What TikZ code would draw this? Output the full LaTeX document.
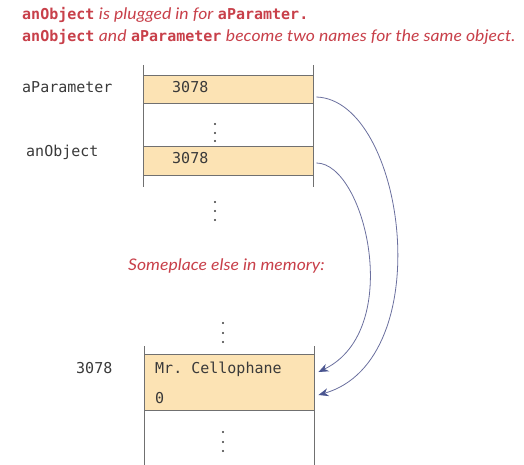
\documentclass[tikz,border=0pt]{standalone}
\usepackage{fontspec}
\setmonofont{DejaVu Sans Mono}
\newfontfamily\handfont{Lato}[FakeStretch=1.1]
\usetikzlibrary{arrows.meta,calc}
\definecolor{notered}{HTML}{C8404A}
\definecolor{cellfill}{HTML}{FCE3B4}
\definecolor{linegray}{HTML}{707070}
\definecolor{arrowblue}{HTML}{6A6F9E}
\definecolor{headblue}{HTML}{4A5590}
\definecolor{textdark}{HTML}{3A3A3A}
\tikzset{
  cell/.style={draw=linegray, line width=0.9pt, fill=cellfill, minimum width=170pt, inner sep=0pt},
  rail/.style={draw=linegray, line width=0.9pt},
  memtext/.style={anchor=base west, inner sep=0pt, text=textdark, font=\fontsize{15}{17}\ttfamily},
  note/.style={anchor=base west, inner sep=0pt, text=notered, font=\fontsize{15}{17}\selectfont},
  dot/.style={circle, fill=textdark, inner sep=0pt, minimum size=2.4pt},
  ptr/.style={draw=arrowblue, line width=0.8pt, -{Stealth[length=10pt,width=8pt,color=headblue]}},
}
\newcommand{\cd}[1]{{\ttfamily\bfseries #1}}
\newcommand{\hw}[1]{{\handfont\fontsize{16}{18}\selectfont\itshape #1}}
\begin{document}
\begin{tikzpicture}[x=1pt,y=-1pt]
\useasboundingbox (0,0) rectangle (524,465);
% header notes
\node[note] (h1) at (22,20) {\cd{anObject} \hw{is plugged in for} \cd{aParamter.}};
\node[note] (h2) at (22,42) {\cd{anObject} \hw{and} \cd{aParameter} \hw{become two names for the same object.}};
% top memory
\draw[rail] (143,65) -- (143,187);
\draw[rail] (313,65) -- (313,187);
\node[cell, minimum height=28pt] (p) at (228,89) {};
\node[cell, minimum height=29pt] (o) at (228,160.5) {};
\node[memtext] (lp) at (22,93) {aParameter};
\node[memtext] (lo) at (26,157) {anObject};
\node[memtext] (vp) at (172,93) {3078};
\node[memtext] (vo) at (172,164) {3078};
\node[dot] (d1) at (215,124) {};
\node[dot] (d2) at (215,133) {};
\node[dot] (d3) at (215,141) {};
\node[dot] (d4) at (215,202) {};
\node[dot] (d5) at (215,211) {};
\node[dot] (d6) at (215,220) {};
% note
\node[note] (sp) at (128,270) {\hw{Someplace else in memory:}};
% bottom memory
\draw[rail] (144,346) -- (144,465);
\draw[rail] (314,346) -- (314,465);
\node[cell, minimum height=56pt] (m) at (229,382) {};
\node[memtext] (la) at (76,373) {3078};
\node[memtext] (mn) at (155,373) {Mr. Cellophane};
\node[memtext] (mz) at (155,403) {0};
\node[dot] (d7) at (223,323) {};
\node[dot] (d8) at (223,333) {};
\node[dot] (d9) at (223,342) {};
\node[dot] (d10) at (223,432) {};
\node[dot] (d11) at (223,442) {};
\node[dot] (d12) at (223,451) {};
% pointers
\coordinate (s1) at ($(p.east)+(3,8)$);
\coordinate (e1) at ($(m.east)+(4,13)$);
\coordinate (s2) at ($(o.east)+(3,2.5)$);
\coordinate (e2) at ($(m.east)+(4,-10)$);
\draw[ptr] (s1) .. controls (405,100) and (440,360) .. (e1);
\draw[ptr] (s2) .. controls (365,163) and (405,330) .. (e2);
\end{tikzpicture}
\end{document}
